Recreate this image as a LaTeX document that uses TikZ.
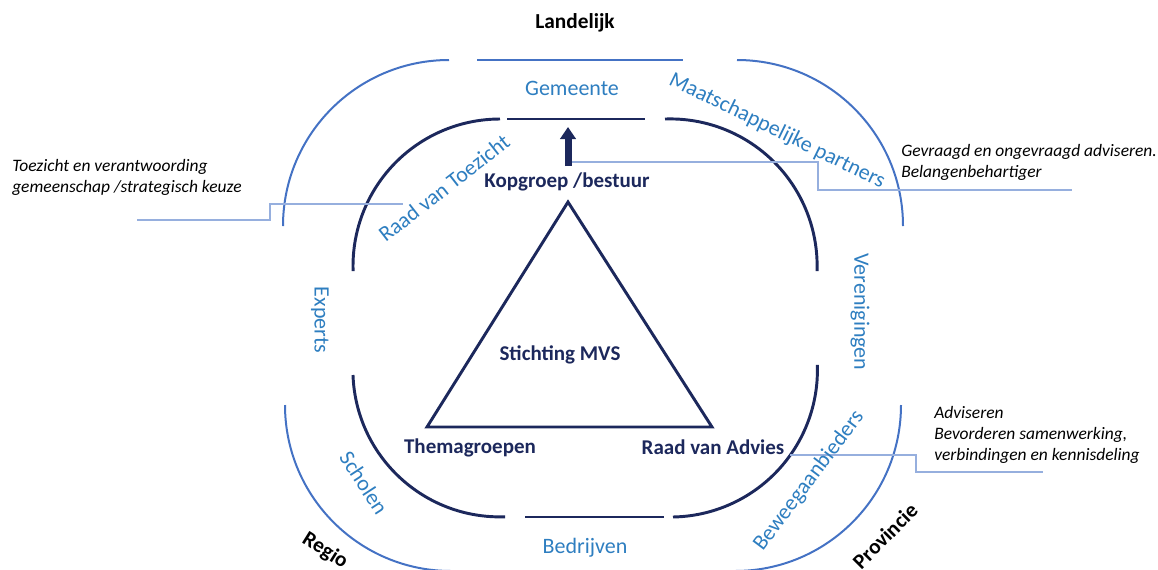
\documentclass[tikz,border=0pt]{standalone}
\usepackage{fontspec}
\setmainfont{Carlito}
\usepackage{xcolor}
\usetikzlibrary{arrows.meta}
\definecolor{ringblue}{RGB}{68,114,196}
\definecolor{navy}{RGB}{28,40,92}
\definecolor{labelblue}{RGB}{46,126,192}
\definecolor{linkblue}{RGB}{150,175,222}

\begin{document}
\begin{tikzpicture}[x=0.75pt, y=0.75pt,
    outer/.style={draw=ringblue, line width=1.5pt},
    inner/.style={draw=navy, line width=2.2pt},
    ringtext/.style={text=labelblue, font=\fontsize{16.5}{19}\selectfont, inner sep=0pt},
    core/.style={text=navy, font=\bfseries\fontsize{15.75}{18}\selectfont, inner sep=0pt},
    level/.style={text=black, font=\bfseries\fontsize{16}{19}\selectfont, inner sep=0pt},
    note/.style={font=\itshape\fontsize{13.1}{15.75}\selectfont, align=left, anchor=west, inner sep=0pt},
    link/.style={draw=linkblue, line width=0.9pt}
]
\useasboundingbox (0,0) rectangle (1158,-569);
\clip (0,0) rectangle (1158,-569);

% outer ring
\draw[outer] (449,-60) arc[start angle=90, end angle=180, radius=124.5pt];
\draw[outer] (477,-60) -- (683,-60);
\draw[outer] (737,-60) arc[start angle=90, end angle=0, radius=124.5pt];
\draw[outer] (285,-405) arc[start angle=180, end angle=270, radius=124.5pt];
\draw[outer] (901,-405) arc[start angle=0, end angle=-90, radius=124.5pt];

% inner ring
\draw[inner] (500,-119) arc[start angle=90, end angle=182, radius=110.25pt];
\draw[inner] (507,-119) -- (645,-119);
\draw[inner] (665,-119) arc[start angle=92, end angle=-2, radius=110.25pt];
\draw[inner] (353,-375) arc[start angle=182, end angle=272, radius=110.25pt];
\draw[inner] (525,-517) -- (664,-517);
\draw[inner] (673,-517) arc[start angle=271, end angle=362, radius=110.25pt];

% triangle
\draw[inner, line join=miter] (568,-202) -- (712,-427) -- (427,-427) -- cycle;

% links to the notes
\coordinate (tzA) at (137,-220);
\coordinate (tzB) at (403,-204);
\coordinate (gvA) at (570,-162);
\coordinate (gvB) at (1072,-190);
\coordinate (adA) at (790,-455);
\coordinate (adB) at (1043,-472);
\draw[link] (tzA) -- (270,-220) |- (tzB);
\draw[link] (gvA) -- (818,-162) |- (gvB);
\draw[link] (adA) -- (916,-455) |- (adB);

% levels
\node[level] (lande) at (575,-23) {Landelijk};
\node[level, rotate=-32] (regio) at (325,-551) {Regio};
\node[level, rotate=45] (prov) at (885,-536) {Provincie};

% partners round the ring
\node[ringtext] (gemeente) at (572,-88) {Gemeente};
\node[ringtext, rotate=38] (toezicht) at (444,-188) {Raad van Toezicht};
\node[ringtext, rotate=-26] (maatsch) at (777,-131) {Maatschappelijke partners};
\node[ringtext, rotate=-90] (experts) at (320,-320) {Experts};
\node[ringtext, rotate=-90] (vereni) at (860,-312) {Verenigingen};
\node[ringtext, rotate=-57] (scholen) at (364,-483) {Scholen};
\node[ringtext] (bedrijven) at (585,-548) {Bedrijven};
\node[ringtext, rotate=53] (bewe) at (809,-481) {Beweegaanbieders};

% core
\node[core] (kop) at (567,-182) {Kopgroep /bestuur};
\node[core] (mvs) at (560,-355) {Stichting MVS};
\node[core] (thema) at (470,-448) {Themagroepen};
\node[core] (advies) at (713,-447) {Raad van Advies};

\coordinate (kopfoot) at (568,-166);
\coordinate (kophead) at (568,-127);
\draw[navy, line width=5.25pt, -{Triangle[width=11.5pt, length=9pt]}] (kopfoot) -- (kophead);

% notes
\node[note] (notetz) at (12,-177) {Toezicht en verantwoording\\gemeenschap /strategisch keuze};
\node[note] (notegv) at (901,-162) {Gevraagd en ongevraagd adviseren.\\Belangenbehartiger};
\node[note] (noteadv) at (934,-435) {Adviseren\\Bevorderen samenwerking,\\verbindingen en kennisdeling};
\end{tikzpicture}
\end{document}
